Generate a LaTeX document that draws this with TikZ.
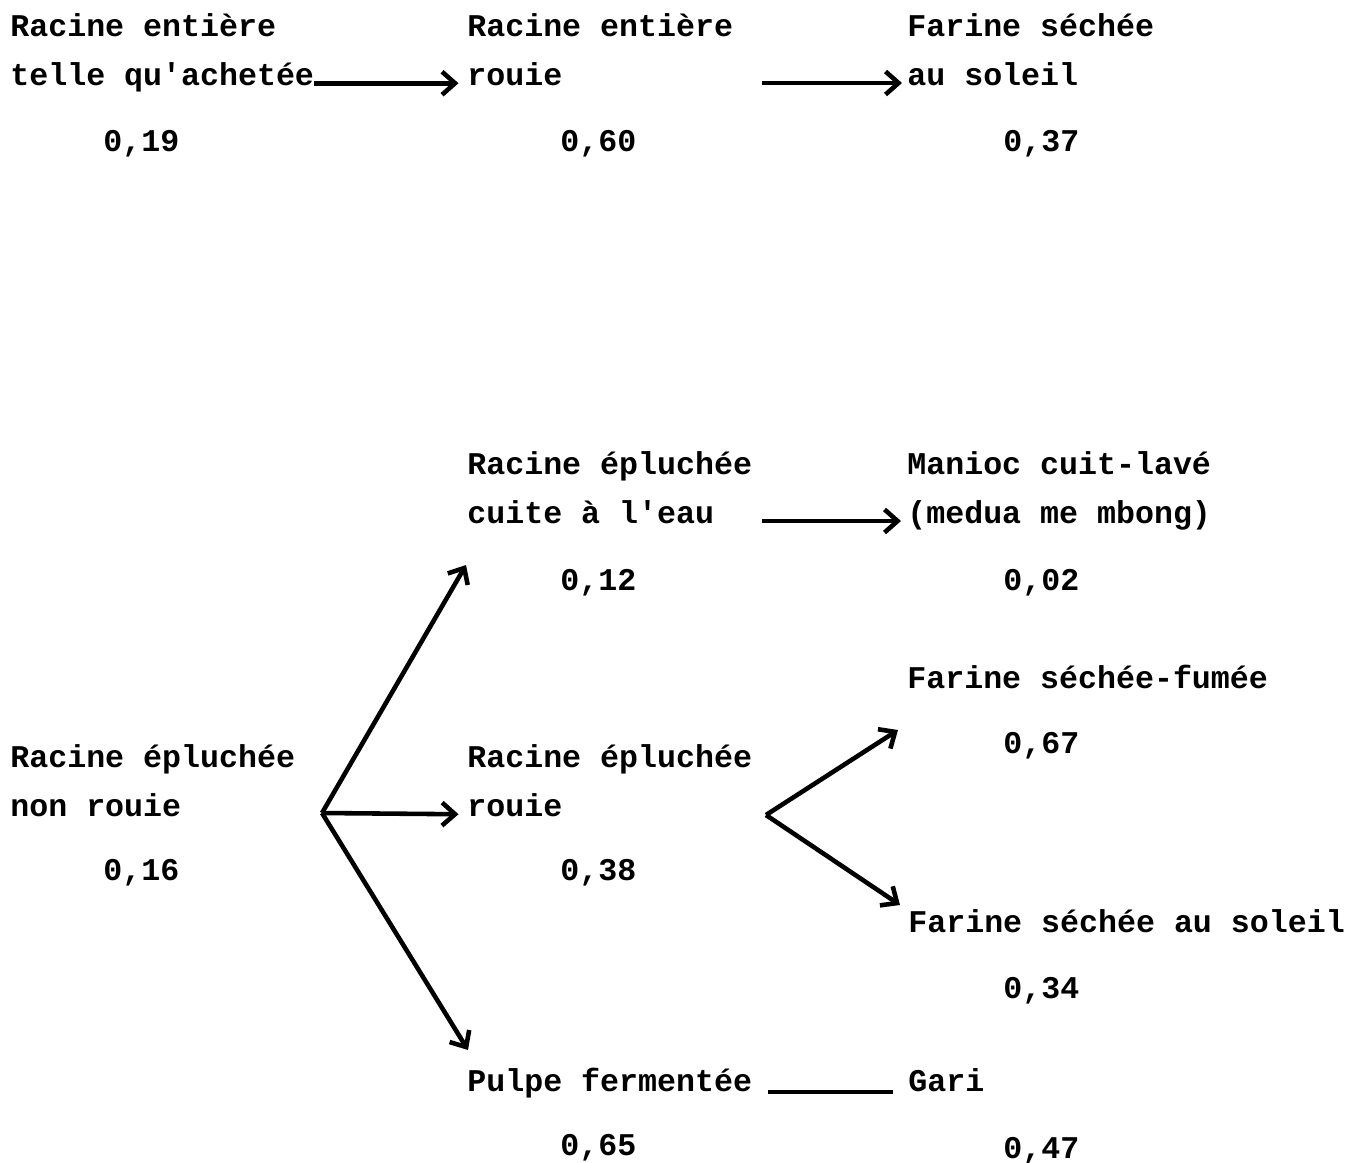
\documentclass[tikz,border=0pt]{standalone}
\usepackage{fontspec}
\setmainfont{Liberation Mono}[Ligatures=TeXOff]
\usetikzlibrary{arrows.meta}

\tikzset{
  lbl/.style={anchor=base west, inner sep=0pt, font=\fontsize{18}{22}\selectfont\bfseries},
  val/.style={lbl},
  flow/.style={line width=2.6pt, -{Straight Barb[length=2.6mm,width=4.6mm]}},
  link/.style={line width=2.6pt},
}

\begin{document}
\begin{tikzpicture}[x=0.02cm, y=-0.02cm]
  \useasboundingbox (0,0) rectangle (1363,1163);
  % top row: whole root
  \node[lbl] (entA1) at (10,36) {Racine entière};
  \node[lbl] (entA2) at (10,85) {telle qu'achetée};
  \node[val] (vA) at (103,151) {0,19};
  \node[lbl] (entB1) at (467,36) {Racine entière};
  \node[lbl] (entB2) at (467,85) {rouie};
  \node[val] (vB) at (560,151) {0,60};
  \node[lbl] (farA1) at (907,36) {Farine séchée};
  \node[lbl] (farA2) at (907,85) {au soleil};
  \node[val] (vC) at (1003,151) {0,37};
  \coordinate (tB) at (762,83);
  \draw[flow] ([yshift=1pt]entA2.base east) -- ([xshift=-0.17cm,yshift=1pt]entB2.base west);
  \draw[flow] (tB) -- ([xshift=-0.1cm]farA2.base west |- tB);

  % lower part: peeled root
  \node[lbl] (pel1) at (10,767) {Racine épluchée};
  \node[lbl] (pel2) at (10,816) {non rouie};
  \node[val] (vP) at (103,880) {0,16};
  \node[lbl] (cui1) at (467,474) {Racine épluchée};
  \node[lbl] (cui2) at (467,523) {cuite à l'eau};
  \node[val] (vCu) at (560,590) {0,12};
  \node[lbl] (man1) at (907,474) {Manioc cuit-lavé};
  \node[lbl] (man2) at (907,523) {(medua me mbong)};
  \node[val] (vM) at (1003,590) {0,02};
  \node[lbl] (rou1) at (467,767) {Racine épluchée};
  \node[lbl] (rou2) at (467,816) {rouie};
  \node[val] (vR) at (560,880) {0,38};
  \node[lbl] (fum) at (907,688) {Farine séchée-fumée};
  \node[val] (vF) at (1003,753) {0,67};
  \node[lbl] (sol) at (908,932) {Farine séchée au soleil};
  \node[val] (vS) at (1003,998) {0,34};
  \node[lbl] (pul) at (467,1091) {Pulpe fermentée};
  \node[val] (vPu) at (560,1155) {0,65};
  \node[lbl] (gar) at (908,1091) {Gari};
  \node[val] (vG) at (1003,1158) {0,47};

  \coordinate (fork) at (322,813);
  \coordinate (up) at (466,565);
  \coordinate (down) at (468,1050);
  \coordinate (forkB) at (766,815);
  \coordinate (fumIn) at (898,730);
  \coordinate (solIn) at (900,905);
  \coordinate (tM) at (762,521);
  \coordinate (tG) at (768,1092);
  \draw[flow] (fork) -- (up);
  \draw[flow] (fork) -- ([xshift=-0.17cm,yshift=1pt]rou2.base west);
  \draw[flow] (fork) -- (down);
  \draw[flow] (forkB) -- (fumIn);
  \draw[flow] (forkB) -- (solIn);
  \draw[flow] (tM) -- ([xshift=-0.12cm]man2.base west |- tM);
  \draw[link] (tG) -- ([xshift=-0.3cm]gar.base west |- tG);
\end{tikzpicture}
\end{document}
